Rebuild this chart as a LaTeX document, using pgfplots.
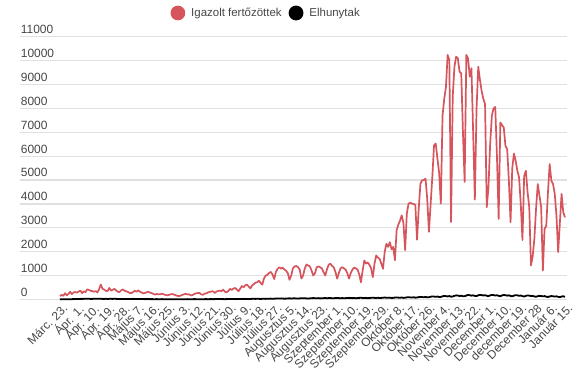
\documentclass[border=0pt]{standalone}
\usepackage{fontspec}
\setmainfont{Liberation Sans}
\usepackage{pgfplots}
\usepackage{pgfplotstable}
\pgfplotsset{compat=1.18}
\definecolor{cRed}{RGB}{214,84,92}
\definecolor{cGrid}{RGB}{224,224,224}
\definecolor{cText}{RGB}{70,70,70}

\pgfplotstableread[row sep=\\]{
v\\
140\\190\\150\\260\\170\\230\\320\\
220\\290\\310\\280\\330\\370\\260\\
340\\300\\420\\400\\360\\350\\320\\
350\\290\\420\\620\\450\\410\\360\\
350\\480\\370\\400\\440\\380\\320\\
310\\380\\420\\360\\340\\310\\270\\
260\\310\\360\\320\\380\\320\\290\\
250\\270\\300\\320\\280\\260\\230\\
200\\230\\210\\215\\240\\210\\190\\
170\\190\\210\\225\\205\\175\\150\\
140\\160\\190\\215\\235\\205\\215\\
165\\185\\225\\255\\265\\275\\215\\
190\\240\\250\\290\\310\\330\\340\\
270\\330\\350\\370\\340\\410\\320\\
300\\350\\440\\400\\450\\480\\420\\
340\\450\\560\\510\\590\\620\\540\\
460\\580\\640\\700\\720\\780\\690\\
620\\880\\1000\\1030\\1110\\1150\\1050\\
850\\1150\\1280\\1350\\1290\\1330\\1250\\
1200\\1100\\820\\1000\\1300\\1380\\1400\\
1350\\1250\\870\\1000\\1300\\1460\\1420\\
1380\\1200\\1000\\1100\\1350\\1380\\1350\\
1300\\1150\\1000\\1250\\1450\\1500\\1400\\
1350\\1150\\870\\1100\\1300\\1350\\1300\\
1250\\1100\\870\\1100\\1250\\1330\\1300\\
1250\\1050\\720\\1200\\1630\\1500\\1550\\
1450\\1300\\930\\1500\\1840\\1750\\1700\\
1500\\1280\\2000\\2330\\2200\\2400\\2100\\
2200\\1640\\2900\\3130\\3300\\3520\\3200\\
2060\\3600\\4010\\4050\\4010\\4000\\3950\\
2500\\3800\\4850\\4990\\5000\\5060\\4200\\
2830\\4000\\5130\\6460\\6530\\5900\\5300\\
4010\\7700\\8400\\8900\\10240\\10030\\3240\\
8500\\9750\\10170\\10100\\9540\\9470\\7000\\
4920\\10240\\10100\\9330\\9680\\7000\\4180\\
8000\\9750\\9200\\8730\\8400\\8180\\3860\\
4690\\6500\\7690\\8000\\8060\\6000\\3370\\
7410\\7300\\7200\\6430\\6300\\5000\\3230\\
5500\\6110\\5810\\5390\\5110\\4000\\2490\\
5180\\5390\\4500\\3860\\1420\\1800\\2530\\
3800\\4830\\4350\\3860\\1210\\2950\\3090\\
4480\\5670\\4970\\4830\\4420\\3500\\1980\\
3200\\4420\\3650\\3440\\
}\redtable

\pgfplotstableread[row sep=\\]{
v\\
2\\3\\3\\5\\4\\6\\7\\
10\\13\\18\\15\\16\\22\\20\\
24\\25\\26\\28\\22\\20\\30\\
24\\30\\28\\25\\22\\19\\26\\
18\\24\\25\\20\\30\\22\\19\\
17\\20\\21\\18\\16\\15\\14\\
18\\22\\20\\14\\19\\17\\12\\
15\\11\\12\\14\\10\\13\\9\\
10\\11\\9\\8\\12\\7\\8\\
6\\9\\8\\10\\7\\9\\5\\
6\\10\\8\\7\\9\\11\\6\\
7\\9\\12\\10\\8\\6\\5\\
8\\10\\12\\9\\11\\13\\10\\
12\\14\\15\\13\\16\\11\\10\\
14\\13\\18\\17\\19\\15\\12\\
15\\20\\18\\22\\19\\17\\14\\
20\\23\\25\\21\\26\\24\\19\\
25\\28\\22\\30\\27\\33\\26\\
30\\35\\38\\34\\41\\36\\29\\
34\\40\\45\\38\\42\\47\\36\\
38\\43\\49\\45\\52\\41\\35\\
44\\48\\56\\50\\46\\53\\42\\
47\\52\\58\\49\\55\\60\\45\\
50\\56\\62\\54\\48\\57\\46\\
53\\60\\64\\58\\52\\61\\48\\
55\\63\\68\\60\\57\\65\\50\\
58\\66\\72\\64\\61\\69\\55\\
62\\71\\78\\70\\66\\74\\60\\
65\\76\\82\\75\\70\\80\\64\\
70\\85\\92\\84\\78\\90\\72\\
80\\95\\105\\98\\90\\104\\85\\
92\\110\\125\\118\\108\\122\\100\\
105\\130\\145\\136\\124\\140\\115\\
120\\150\\168\\160\\142\\155\\135\\
130\\165\\185\\175\\158\\170\\148\\
140\\172\\190\\180\\165\\178\\152\\
138\\170\\188\\182\\160\\176\\150\\
135\\168\\185\\176\\158\\170\\145\\
128\\160\\178\\170\\150\\162\\138\\
120\\150\\165\\158\\140\\148\\125\\
110\\135\\150\\142\\128\\138\\115\\
100\\125\\140\\132\\118\\130\\108\\
95\\120\\130\\110\\
}\blacktable

\begin{document}
\begin{tikzpicture}
\path[use as bounding box] (0,0) rectangle (578bp,385bp);
\begin{axis}[
  at={(20bp,85.6bp)}, anchor=south west,
  scale only axis, width=547bp, height=262.6bp,
  xmin=-23.5, xmax=298.2, ymin=0, ymax=11000,
  clip=false,
  ytick={0,1000,...,11000},
  ymajorgrids, grid style={cGrid, line width=1.2bp},
  axis line style={draw=none}, major tick length=0pt,
  xtick={0,9,...,297},
  xticklabels={Márc. 23.,Ápr. 1.,Ápr. 10.,Ápr. 19.,Ápr. 28.,Május 7.,Május 16.,Május 25.,Június 3.,Június 12.,Június 21.,Június 30.,Július 9.,Július 18.,Július 27.,Augusztus 5.,Augusztus 14.,Augusztus 23.,Szeptember 1.,Szeptember 10.,Szeptember 19.,Szeptember 29.,Október 8.,Október 17.,Október 26.,November 4.,November 13.,November 22.,December 1.,December 10.,december 19.,December 28,Január 6.,Január 15.},
  xticklabel style={rotate=45, anchor=north east, font=\fontsize{12}{14}\selectfont, text=cText, inner sep=1bp, yshift=-3bp},
  yticklabel style={anchor=south west, font=\fontsize{12}{14}\selectfont, text=cText, inner sep=0pt, xshift=0.7bp, yshift=2.8bp},
  /pgf/number format/assume math mode=true,
  /pgf/number format/1000 sep={},
  scaled y ticks=false,
  legend style={at={(0.450,1.0906)}, anchor=center, draw=none, fill=none,
    font=\fontsize{11.5}{13}\selectfont, text=cText, legend columns=2,
    /tikz/every even column/.append style={column sep=5bp},
    /tikz/every odd column/.append style={column sep=4bp}},
  legend cell align=left,
]
\addplot[cRed, line width=1.7bp, line join=round, no marks,
  legend image code/.code={\fill[cRed] (0bp,0bp) circle (6.5bp);}]
  table[x expr=\coordindex, y=v] {\redtable};
\addlegendentry{Igazolt fertőzöttek}
\addplot[black, line width=1.8bp, line join=round, no marks,
  legend image code/.code={\fill[black] (0bp,0bp) circle (6.5bp);}]
  table[x expr=\coordindex, y=v] {\blacktable};
\addlegendentry{Elhunytak}
\end{axis}
\end{tikzpicture}
\end{document}
